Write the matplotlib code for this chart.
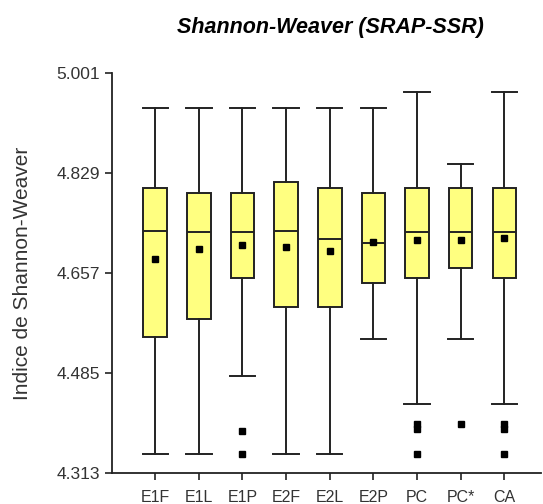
import matplotlib
matplotlib.use('Agg')
import matplotlib.pyplot as plt

plt.rcParams['font.family'] = ['Liberation Sans', 'DejaVu Sans']

# summary statistics per group
groups = ['E1F', 'E1L', 'E1P', 'E2F', 'E2L', 'E2P', 'PC', 'PC*', 'CA']
whisk_hi = [4.941, 4.941, 4.941, 4.941, 4.941, 4.941, 4.969, 4.844, 4.969]
q3 = [4.804, 4.795, 4.795, 4.813, 4.804, 4.795, 4.804, 4.804, 4.804]
medians = [4.730, 4.727, 4.727, 4.730, 4.715, 4.709, 4.727, 4.727, 4.727]
means = [4.681, 4.699, 4.705, 4.702, 4.695, 4.711, 4.714, 4.714, 4.717]
q1 = [4.547, 4.578, 4.648, 4.599, 4.599, 4.639, 4.648, 4.666, 4.648]
whisk_lo = [4.345, 4.345, 4.480, 4.345, 4.345, 4.544, 4.431, 4.544, 4.431]
outliers = [[], [], [4.386, 4.346], [], [], [],
            [4.398, 4.389, 4.346], [4.398], [4.398, 4.389, 4.346]]

yticks = [4.313, 4.485, 4.657, 4.829, 5.001]

stats = []
for i, g in enumerate(groups):
    stats.append({'label': g, 'whishi': whisk_hi[i], 'q3': q3[i], 'med': medians[i],
                  'mean': means[i], 'q1': q1[i], 'whislo': whisk_lo[i],
                  'fliers': outliers[i]})

fig = plt.figure(figsize=(5.43, 5.04), dpi=100)
ax = fig.add_axes([112 / 543, 31 / 504, 429 / 543, 400 / 504])

edge = '#222222'
lw = 1.4
square = dict(marker='s', markerfacecolor='black', markeredgecolor='black', markersize=5)
ax.bxp(stats, positions=range(1, len(groups) + 1), widths=0.54, patch_artist=True,
       showmeans=True, showfliers=True,
       boxprops=dict(facecolor='#ffff80', edgecolor=edge, linewidth=lw),
       medianprops=dict(color=edge, linewidth=lw),
       whiskerprops=dict(color=edge, linewidth=lw),
       capprops=dict(color=edge, linewidth=lw),
       capwidths=0.58,
       meanprops=square,
       flierprops=square)

ax.set_xlim(0.01, 9.84)
ax.set_ylim(yticks[0], yticks[-1])
ax.set_yticks(yticks)
ax.set_yticklabels(['{:.3f}'.format(t) for t in yticks])
ax.set_xticks(range(1, len(groups) + 1))
ax.set_xticklabels(groups)

for s in ['top', 'right']:
    ax.spines[s].set_visible(False)
for s in ['left', 'bottom']:
    ax.spines[s].set_color(edge)
    ax.spines[s].set_linewidth(1.3)
ax.tick_params(axis='both', colors=edge, labelcolor='#333333',
               width=1.2, length=5, direction='out')
ax.tick_params(axis='y', pad=3.5, labelsize=12.5)
ax.tick_params(axis='x', pad=7, labelsize=11.5)

ax.set_ylabel('Indice de Shannon-Weaver', fontsize=15, color='#333333', labelpad=18)
fig.text(330 / 543, 1 - 28 / 504, 'Shannon-Weaver (SRAP-SSR)', ha='center', va='center',
         fontsize=15.5, fontweight='bold', fontstyle='italic', color='black')

fig.savefig('out.png', dpi=100)
